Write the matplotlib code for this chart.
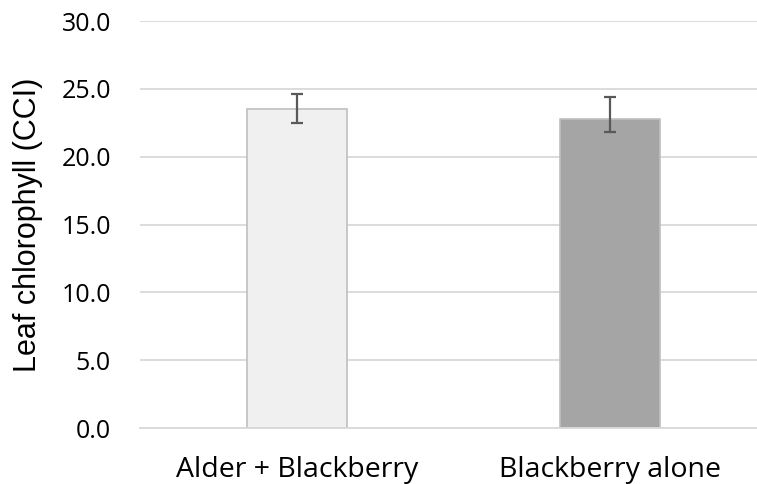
import numpy as np
import matplotlib
matplotlib.use("Agg")
import matplotlib.pyplot as plt

# data
categories = ["Alder + Blackberry", "Blackberry alone"]
chlorophyll = [23.5, 22.8]
err_low = [1.0, 0.95]
err_high = [1.15, 1.6]
bar_colors = ["#f0f0f0", "#a5a5a5"]
yticks = [0, 5, 10, 15, 20, 25, 30]

plt.rcParams['font.family'] = ['Open Sans', 'DejaVu Sans']

fig = plt.figure(figsize=(7.57, 4.84), dpi=100)
ax = fig.add_axes([0.185, 0.1157, 0.828, 0.8409])

x = np.arange(len(categories))
ax.bar(x, chlorophyll, width=0.32, color=bar_colors, edgecolor="#bfbfbf",
       linewidth=1.2, zorder=2)
ax.errorbar(x, chlorophyll, yerr=[err_low, err_high], fmt="none",
            ecolor="#595959", elinewidth=1.6, capsize=4.5, capthick=1.6, zorder=3)

ax.set_xlim(-0.5, 1.5)
ax.set_ylim(0, 30)
ax.set_yticks(yticks)
ax.set_yticklabels([f"{v:.1f}" for v in yticks], fontsize=18)
ax.set_xticks(x)
ax.set_xticklabels(categories, fontsize=20.5)
ax.tick_params(axis="both", length=0, colors="black")
ax.tick_params(axis="y", pad=21)
ax.tick_params(axis="x", pad=20)
ax.yaxis.grid(True, color="#d9d9d9", linewidth=1.3, zorder=0)
ax.set_axisbelow(True)
for s in ["top", "right", "left"]:
    ax.spines[s].set_visible(False)
ax.spines["bottom"].set_color("#d9d9d9")
ax.spines["bottom"].set_linewidth(1.3)

ax.set_ylabel("Leaf chlorophyll (CCI)", fontsize=22, family="Liberation Sans",
              labelpad=13)

fig.savefig("out.png", dpi=100)
